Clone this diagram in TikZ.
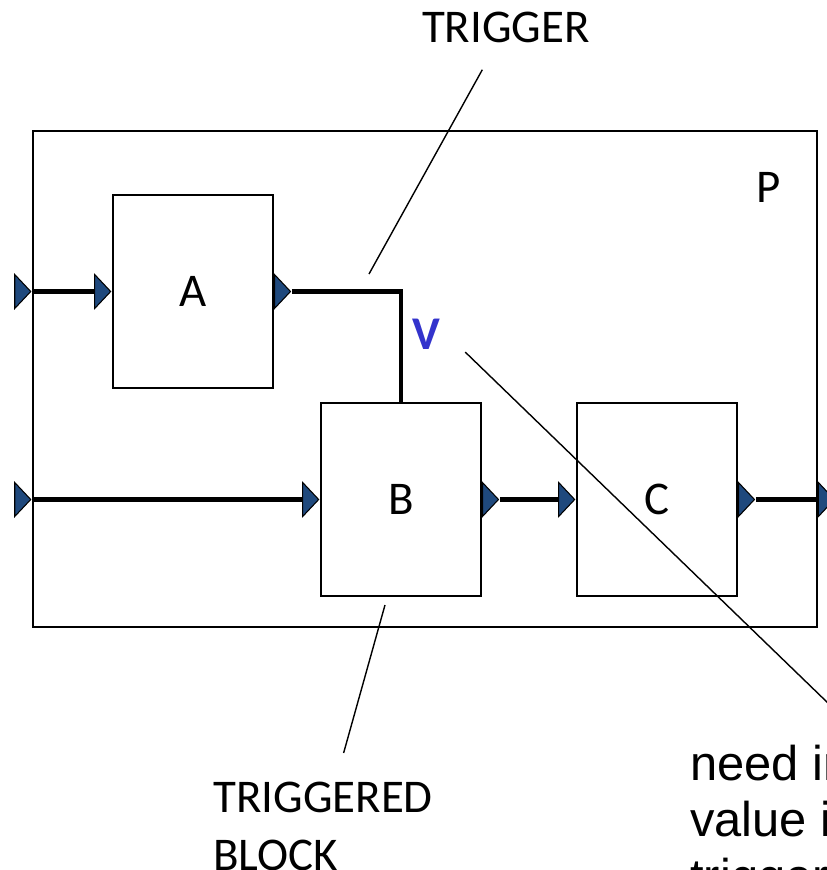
\documentclass[tikz,border=0pt]{standalone}
\usepackage{fontspec}
\setmainfont{Carlito}
\newfontfamily\notefont{Liberation Sans}
\usepackage{tikz}
\usetikzlibrary{positioning,shapes.geometric}
\definecolor{portblue}{RGB}{31,73,125}
\definecolor{vblue}{RGB}{51,51,204}
\tikzset{
  blk/.style={draw, line width=1.1pt, inner sep=0pt,
    minimum width=3.2cm, minimum height=3.86cm, font=\fontsize{26.7}{33}\selectfont},
  outport/.style={draw, line width=0.6pt, fill=portblue, isosceles triangle,
    isosceles triangle stretches, shape border rotate=0, inner sep=0pt,
    minimum width=0.68cm, minimum height=0.32cm, anchor=lower side},
  inport/.style={outport, anchor=apex},
  wire/.style={line width=2.5pt},
  leader/.style={draw, line width=0.8pt},
  lbl/.style={font=\fontsize{26.7}{33}\selectfont, inner sep=0pt, align=left}
}

\begin{document}
\begin{tikzpicture}[x=0.02cm, y=-0.02cm]
  \path[use as bounding box, clip] (0,0) rectangle (827,870);

  % blocks
  \node[blk, minimum width=15.68cm, minimum height=9.92cm] (P) at (425,379) {};
  \node[lbl] (plbl) at (769,187) {P};
  \node[blk] (A) at (193,291.5) {A};
  \node[blk] (B) at (401,499.5) {B};
  \node[blk] (C) at (657,499.5) {C};

  % ports
  \node[inport]  (pin1) at (P.west |- A.west) {};
  \node[inport]  (pAin) at (A.west) {};
  \node[outport] (pAout) at (A.east) {};
  \node[inport]  (pin2) at (P.west |- B.west) {};
  \node[inport]  (pBin) at (B.west) {};
  \node[outport] (pBout) at (B.east) {};
  \node[inport]  (pCin) at (C.west) {};
  \node[outport] (pCout) at (C.east) {};
  \node[outport] (pout) at (P.east |- C.east) {};

  \draw[wire] (pin1.apex) -- (pAin.lower side);
  \draw[wire] (pAout.apex) -| (B.north);
  \draw[wire] (pin2.apex) -- (pBin.lower side);
  \draw[wire] (pBout.apex) -- (pCin.lower side);
  \draw[wire] (pCout.apex) -- (pout.lower side);

  % labels
  \node[lbl, text=vblue, font=\fontsize{26.7}{33}\selectfont\bfseries,
    inner xsep=0.5cm, inner ysep=0.05cm] (v) at (426,334) {V};
  \node[lbl, inner ysep=0.54cm] (trig) at (506,27) {TRIGGER};
  \node[lbl, outer ysep=0.58cm, anchor=north west, font=\fontsize{26.7}{33.2}\selectfont]
    (tb) at (213,753) {TRIGGERED\\BLOCK};
  \node[lbl, anchor=north west, font=\notefont\fontsize{27.8}{32}\selectfont]
    (need) at (690,745) {need in\\value i\\trigger};
  \coordinate (trigtip) at (369,274);
  \coordinate (bfoot) at (385,605);
  \coordinate (vend) at (860,734);

  \draw[leader] (trig) -- (trigtip);
  \draw[leader] (bfoot) -- (tb);
  \draw[leader] (v.south east) -- (vend);
\end{tikzpicture}
\end{document}
